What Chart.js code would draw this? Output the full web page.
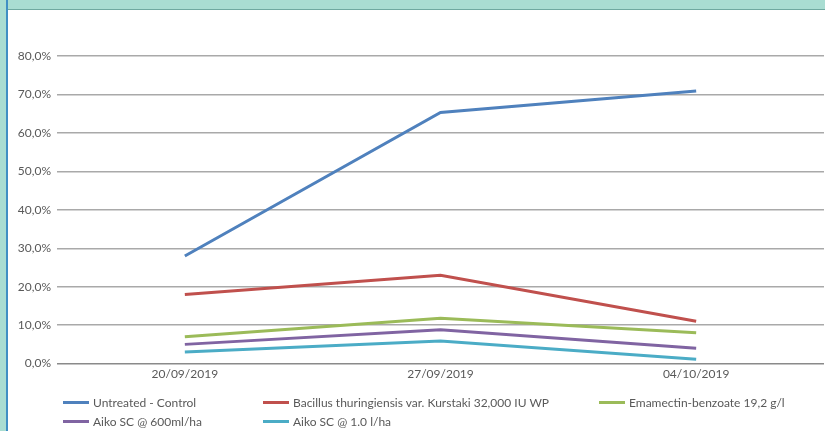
<!DOCTYPE html>
<html>
<head>
<meta charset="utf-8">
<script src="https://cdn.jsdelivr.net/npm/chart.js@4/dist/chart.umd.min.js"></script>
<style>
  html, body { margin: 0; padding: 0; background: #fff; }
  #wrap { position: relative; width: 825px; height: 431px; overflow: hidden; font-family: Lato, sans-serif; }
  #topband { position: absolute; left: 0; top: 0; width: 825px; height: 9px; background: #a9ddd2; border-bottom: 1px solid #6fa9a0; }
  #leftband { position: absolute; left: 0; top: 0; width: 6px; height: 431px; background: #a9ddd2; border-right: 2px solid #3f8fc4; }
  #chart { position: absolute; left: 0; top: 0; }
  .leg { position: absolute; font-size: 12px; color: #595959; white-space: nowrap; line-height: 13px; }
  .leg span.sw { display: inline-block; width: 26px; height: 3px; vertical-align: middle; margin-right: 4px; position: relative; top: -1px; }
</style>
</head>
<body>
<div id="wrap">
  <div id="topband"></div>
  <div id="leftband"></div>
  <canvas id="chart" width="825" height="431"></canvas>
  <div id="legend"></div>
</div>
<script>
const dates = ['20/09/2019', '27/09/2019', '04/10/2019']

const seriesNames = [
  'Untreated - Control',
  'Bacillus thuringiensis var. Kurstaki 32,000 IU WP',
  'Emamectin-benzoate 19,2 g/l',
  'Aiko SC @ 600ml/ha',
  'Aiko SC @ 1.0 l/ha',
]

// percentages as fractions
const untreated = [0.28, 0.653, 0.709]
const bacillus = [0.18, 0.23, 0.11]
const emamectin = [0.07, 0.118, 0.08]
const aiko600 = [0.05, 0.088, 0.04]
const aiko1l = [0.03, 0.059, 0.011]

const colors = ['#4f81bd', '#c0504d', '#9bbb59', '#8064a2', '#4bacc6']
const allValues = [untreated, bacillus, emamectin, aiko600, aiko1l]

const datasets = allValues.map((vals, i) => ({
  label: seriesNames[i],
  data: vals,
  borderColor: colors[i],
  backgroundColor: colors[i],
  borderWidth: 3,
  pointRadius: 0,
  tension: 0,
}))

const pct = (v) => (v * 100).toFixed(1).replace('.', ',') + '%'

new Chart(document.getElementById('chart'), {
  type: 'line',
  data: { labels: dates, datasets: datasets },
  options: {
    responsive: false,
    animation: false,
    layout: { padding: { left: 7, right: 1, top: 56, bottom: 47 } },
    plugins: { legend: { display: false }, tooltip: { enabled: false } },
    scales: {
      x: {
        offset: true,
        grid: { display: false, drawTicks: false },
        border: { display: false },
        ticks: { color: '#595959', font: { family: 'Lato', size: 12 }, padding: 3, maxRotation: 0 },
      },
      y: {
        min: 0,
        max: 0.8,
        ticks: {
          stepSize: 0.1,
          color: '#595959',
          font: { family: 'Lato', size: 12 },
          padding: 6,
          callback: (v) => pct(v),
        },
        grid: {
          drawTicks: false,
          lineWidth: 1.5,
          color: (ctx) => (ctx.tick && ctx.tick.value === 0 ? '#8a8a8a' : '#a9a9a9'),
        },
        border: { display: false },
        afterFit: (s) => { s.width = 50 },
      },
    },
  },
})

// legend laid out like the original (3 columns, 2 rows)
const legCols = [63, 263, 599]
const legRows = [396, 415]
const legend = document.getElementById('legend')
seriesNames.forEach((name, i) => {
  const d = document.createElement('div')
  d.className = 'leg'
  d.style.left = legCols[i % 3] + 'px'
  d.style.top = legRows[Math.floor(i / 3)] + 'px'
  d.innerHTML = '<span class="sw" style="background:' + colors[i] + '"></span>' + name
  legend.appendChild(d)
})
</script>
</body>
</html>
